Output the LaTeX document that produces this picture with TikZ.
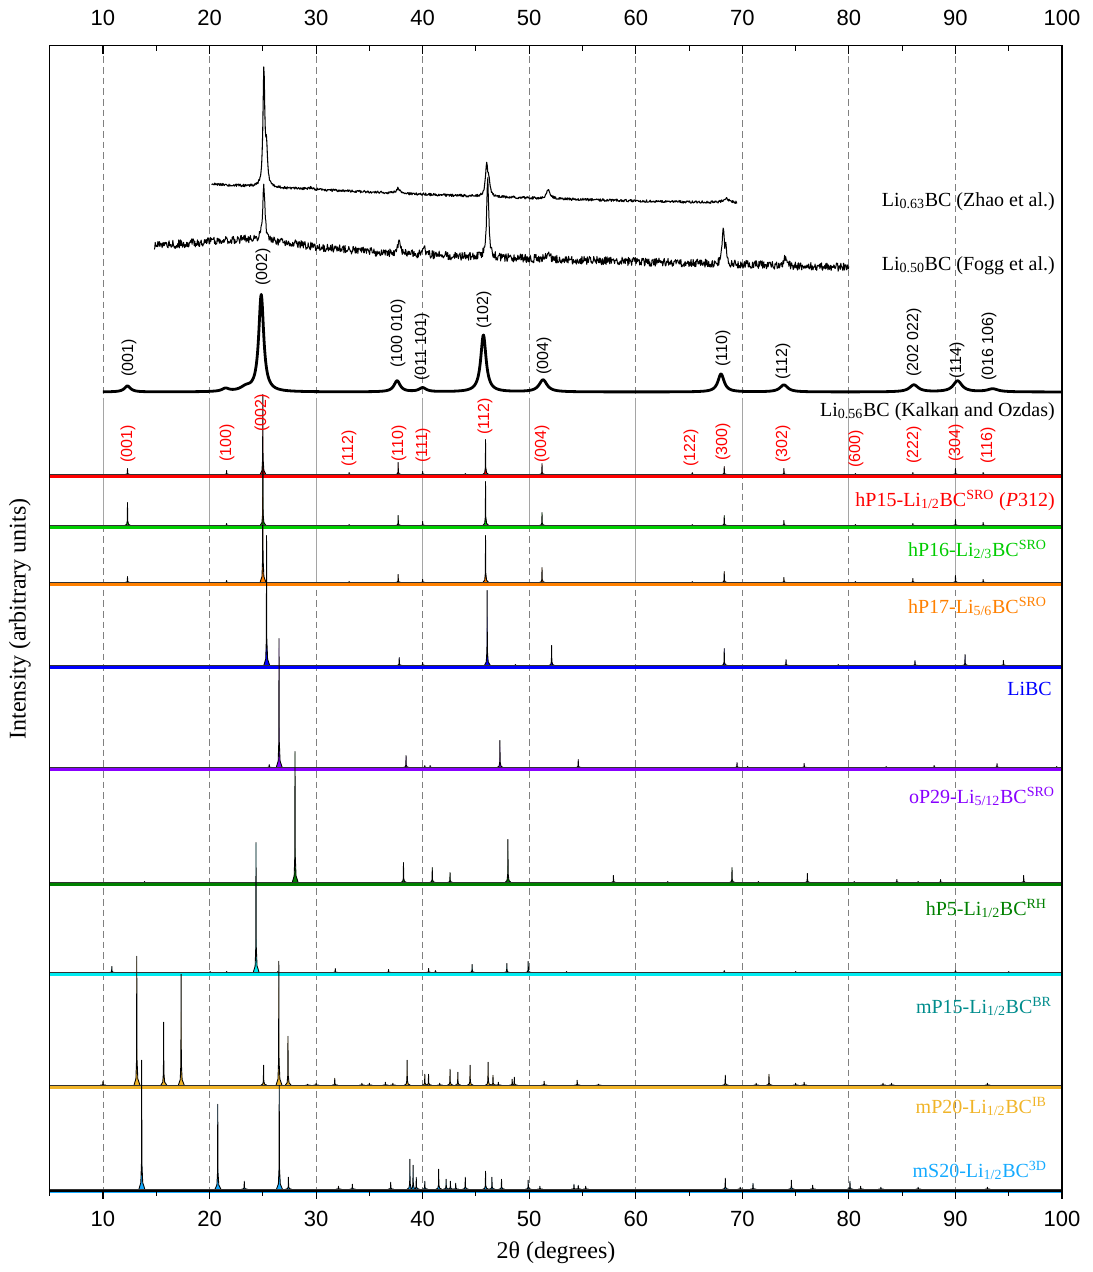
\documentclass[tikz,border=0pt]{standalone}
\usepackage{fontspec}
\setmainfont{Liberation Serif}
\setsansfont{Liberation Sans}
\definecolor{cRed}{RGB}{255,0,0}
\definecolor{cGreen}{RGB}{0,204,0}
\definecolor{cOrange}{RGB}{255,128,0}
\definecolor{cBlue}{RGB}{0,0,255}
\definecolor{cPurple}{RGB}{136,0,255}
\definecolor{cDkGreen}{RGB}{0,128,0}
\definecolor{cCyan}{RGB}{0,235,240}
\definecolor{cTeal}{RGB}{0,140,140}
\definecolor{cGold}{RGB}{240,180,40}
\definecolor{cSky}{RGB}{20,170,255}
\definecolor{cGrid}{RGB}{128,128,128}
\definecolor{cGridL}{RGB}{165,165,165}
\newcommand{\spectrum}[3]{%
  \fill[#1] (5,{#2-1.8}) rectangle (100,{#2+1.8});
  \foreach \pc/\ph in {#3}{
    \filldraw[fill=#1, draw=black, line width=0.65pt, line join=round]
      ({\pc-0.26},{#2-1.5}) -- ({\pc-0.08},{#2-1.5-0.05*\ph}) -- ({\pc-0.02},{#2-1.5-0.2*\ph}) -- (\pc,{#2-1.5-\ph}) -- ({\pc+0.025},{#2-1.5-0.2*\ph}) -- ({\pc+0.1},{#2-1.5-0.05*\ph}) -- ({\pc+0.3},{#2-1.5});
  }
  \draw[black!80, line width=0.35pt] (5,{#2-1.5}) -- (100,{#2-1.5});
}
\begin{document}
\begin{tikzpicture}[x=7.992pt,y=-0.75pt,
  declare function={lor(\xa,\xb,\xc,\xd)=\xc*\xd*\xd/((\xa-\xb)*(\xa-\xb)+\xd*\xd);},
  mil/.style={rotate=90,anchor=west,inner sep=0pt,font=\sffamily\fontsize{12}{12}\selectfont},
  lab/.style={anchor=base east,inner sep=0pt,font=\fontsize{15}{15}\selectfont},
  num/.style={inner sep=0pt,font=\sffamily\fontsize{16.5}{16.5}\selectfont},
  gridline/.style={cGrid,line width=0.7pt,dash pattern=on 5pt off 3pt},
  solidgrid/.style={cGridL,line width=0.7pt},
  tick/.style={black,line width=0.8pt}]
\useasboundingbox (0.336,0) rectangle (102.907,1272);
\pgfmathsetseed{4242}
% grid
\foreach \g in {10,20,...,90}{\draw[gridline] (\g,45.5) -- (\g,1191);}
\foreach \g/\e in {10/527,20/527,30/584,40/584,50/527,60/584,70/476,80/527,90/584}{\draw[solidgrid] (\g,398) -- (\g,\e);}
% experimental curves
\draw[line width=0.8pt, line join=round] plot[domain=20.2:69.5, samples=1000] (\x,{184+0.6*(\x-20)-0.0045*(\x-20)*(\x-20)+1.3*rand-lor(\x,25.1,117,0.1)-lor(\x,25.35,35,0.1)-lor(\x,29.5,1.5,0.3)-lor(\x,37.7,5,0.2)-lor(\x,46.0,30,0.13)-lor(\x,46.22,14,0.12)-lor(\x,51.8,9,0.2)-lor(\x,68.5,4,0.3)});
\draw[line width=0.75pt, line join=round] plot[domain=14.8:80, samples=1300] (\x,{250-637/((\x-24)*(\x-24)+49)+0.27*(\x-15)+4.2*rand-lor(\x,25.1,55,0.12)-lor(\x,37.8,18,0.1)-lor(\x,40.2,5,0.15)-lor(\x,46.1,80,0.11)-lor(\x,51.8,8,0.15)-lor(\x,68.2,35,0.11)-lor(\x,68.45,12,0.1)-lor(\x,74.0,9,0.15)});
\draw[line width=2.1pt, line join=round] plot[domain=10:100, samples=1800] (\x,{392-lor(\x,12.3,6,0.35)-lor(\x,21.5,3,0.4)-lor(\x,23.4,4,0.6)-lor(\x,24.85,97,0.28)-lor(\x,37.6,11,0.35)-lor(\x,40.0,4,0.4)-lor(\x,45.7,57,0.3)-lor(\x,51.3,12,0.45)-lor(\x,68.0,18,0.35)-lor(\x,73.9,7,0.45)-lor(\x,86.1,7,0.5)-lor(\x,90.2,11,0.5)-lor(\x,93.5,3,0.6)});
% simulated spectra
\spectrum{cRed}{476}{12.3/6,21.6/4,25.0/80,33.1/2,37.7/12,40.0/3,44.0/1,45.9/35,51.2/11,65.3/2,68.3/8,73.9/6,80.6/1,86.0/2,90.0/6,92.6/2}
\spectrum{cGreen}{527}{12.3/23,21.6/2,25.0/60,33.1/1,37.7/10,40.0/4,45.9/44,51.2/13,65.3/1,68.3/10,73.9/5,80.6/1,86.0/2,90.0/6,92.6/3}
\spectrum{cOrange}{584}{12.3/6,21.6/2,25.0/120,33.1/1,37.7/8,40.0/3,45.9/47,51.2/15,65.3/1,68.3/11,73.9/5,80.6/1,86.0/4,90.0/7,92.6/3}
\spectrum{cBlue}{667}{25.35/130,37.8/8,40.0/3,46.05/75,48.7/1,52.1/20,68.3/17,74.1/6,79.0/1,86.2/5,90.9/11,94.5/5}
\spectrum{cPurple}{769}{25.6/3,26.52/129,38.44/12,40.2/2,40.7/2,47.25/27,54.6/8,69.5/5,70.5/1,75.8/4,83.5/1,88.0/2,93.9/4,99.5/1}
\spectrum{cDkGreen}{884}{13.9/1,28.02/131,38.2/20,40.9/15,42.57/10,48.0/43,57.9/7,63.0/1,69.03/15,71.5/1,76.1/9,80.5/1,84.5/3,86.5/1,88.6/3,96.4/7}
\spectrum{cCyan}{974}{10.83/6,20.05/1,21.6/1,24.36/130,26.4/1,31.8/4,36.8/3,40.56/4,41.2/2,44.64/8,47.9/9,49.9/11,53.5/1,68.3/2,75.0/1,90.0/2,95.0/1}
\spectrum{cGold}{1086.7}{10.0/4,13.17/129,15.69/63,17.33/111,25.07/20,26.5/124,27.36/49,29.2/1,30.0/2,31.75/7,34.3/2,35.0/2,36.5/3,37.2/2,38.54/25,40.2/11,40.55/11,41.6/2,42.57/16,43.3/13,44.45/20,46.14/23,46.6/10,47.1/3,48.4/6,48.6/8,51.4/4,54.5/5,56.5/1,68.4/10,71.3/2,72.5/11,75.0/2,75.8/3,83.2/2,84.0/2,93.0/2}
\spectrum{cSky}{1190.7}{13.63/129,20.77/85,23.26/8,26.54/104,27.4/12,32.1/3,33.4/5,37.0/7,38.8/30,39.1/24,39.4/12,40.2/8,41.5/20,42.2/10,42.6/8,43.1/6,44.0/12,45.9/18,46.5/12,47.4/10,49.9/9,51.0/3,54.2/5,54.6/4,55.3/3,68.4/11,69.8/2,71.0/6,74.6/9,76.6/4,80.1/8,81.1/3,83.0/2,86.5/2,93.0/2}
% Miller labels (Kalkan)
\foreach \px/\py/\tx [count=\i] in {12.44/377/(001),25.02/286/(002),37.69/368/(100 010),39.94/381/(011 101),45.76/329/(102),51.39/375/(004),68.18/367/(110),73.81/380/(112),86.11/377/(202 022),90.14/379/(114),93.15/381/(016 106)}{\node[mil] (m\i) at (\px,\py) {\tx};}
% Miller labels (hP15)
\foreach \px/\py/\tx [count=\i] in {12.35/463/(001),21.64/462/(100),24.92/432/(002),33.09/467/(112),37.78/462/(110),40.03/463/(111),45.85/435/(112),51.2/463/(004),65.18/467/(122),68.18/461/(300),73.81/463/(302),80.67/468/(600),86.11/464/(222),90.05/462/(304),93.05/464/(116)}{\node[mil,text=cRed] (r\i) at (\px,\py) {\tx};}
% spectrum labels
\node[lab] (L1) at (99.34,206) {Li\textsubscript{0.63}BC (Zhao et al.)};
\node[lab] (L2) at (99.34,270) {Li\textsubscript{0.50}BC (Fogg et al.)};
\node[lab] (L3) at (99.34,416) {Li\textsubscript{0.56}BC (Kalkan and Ozdas)};
\node[lab,text=cRed] (L4) at (99.34,506) {hP15-Li\textsubscript{1/2}BC\textsuperscript{SRO} (\textit{P}312)};
\node[lab,text=cGreen] (L5) at (98.59,556) {hP16-Li\textsubscript{2/3}BC\textsuperscript{SRO}};
\node[lab,text=cOrange] (L6) at (98.59,613) {hP17-Li\textsubscript{5/6}BC\textsuperscript{SRO}};
\node[lab,text=cBlue] (L7) at (99.06,695) {LiBC};
\node[lab,text=cPurple] (L8) at (99.34,803) {oP29-Li\textsubscript{5/12}BC\textsuperscript{SRO}};
\node[lab,text=cDkGreen] (L9) at (98.59,915) {hP5-Li\textsubscript{1/2}BC\textsuperscript{RH}};
\node[lab,text=cTeal] (L10) at (99.06,1013) {mP15-Li\textsubscript{1/2}BC\textsuperscript{BR}};
\node[lab,text=cGold] (L11) at (98.59,1113) {mP20-Li\textsubscript{1/2}BC\textsuperscript{IB}};
\node[lab,text=cSky] (L12) at (98.59,1177) {mS20-Li\textsubscript{1/2}BC\textsuperscript{3D}};
% frame and ticks
\draw[line width=0.9pt] (5,45.5) rectangle (100,1191);
\foreach \t in {5,15,...,95}{\draw[tick] (\t,45.5) -- (\t,50.5); \draw[tick] (\t,1191) -- (\t,1196);}
\foreach \t in {10,20,...,100}{\draw[tick] (\t,45.5) -- (\t,54); \draw[tick] (\t,1191) -- (\t,1199);
  \node[num] (t\t) at (\t,18) {\t}; \node[num] (b\t) at (\t,1219) {\t};}
% axis titles
\node[font=\fontsize{18}{18}\selectfont, inner sep=0pt] (xl) at (52.51,1253) {2θ (degrees)};
\node[font=\fontsize{18}{18}\selectfont, inner sep=0pt, rotate=90] (yl) at (2.21,619) {Intensity (arbitrary units)};
\end{tikzpicture}
\end{document}
